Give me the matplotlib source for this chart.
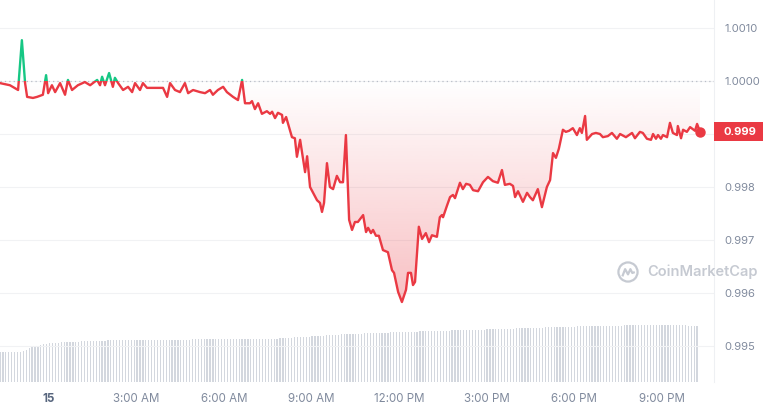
import numpy as np
import matplotlib.pyplot as plt
from matplotlib.patches import Polygon, Rectangle, Circle
from matplotlib.colors import LinearSegmentedColormap
import matplotlib.transforms as mtransforms

plt.rcParams['font.family'] = ['Inter', 'DejaVu Sans']

# price trace: hours relative to 00:00 on the 15th, price in USD
hours = [-1.68, -1.34, -1.06, -0.93, -0.82, -0.75, -0.55, -0.41, -0.21, -0.10,
         -0.03, 0.10, 0.21, 0.38, 0.55, 0.65, 0.79, 0.99, 1.23, 1.41,
         1.65, 1.75, 1.82, 1.92, 2.06, 2.19, 2.26, 2.37, 2.54, 2.71,
         2.85, 2.95, 3.12, 3.22, 3.36, 3.91, 4.05, 4.15, 4.32, 4.49,
         4.66, 4.77, 4.94, 5.18, 5.35, 5.52, 5.62, 5.79, 5.97, 6.10,
         6.31, 6.48, 6.62, 6.72, 6.89, 6.96, 7.06, 7.17, 7.30, 7.47,
         7.58, 7.65, 7.75, 7.85, 7.99, 8.02, 8.13, 8.33, 8.43, 8.50,
         8.61, 8.78, 8.85, 8.95, 9.19, 9.29, 9.36, 9.43, 9.53, 9.63,
         9.74, 9.87, 9.98, 10.08, 10.18, 10.29, 10.39, 10.49, 10.59, 10.70,
         10.77, 10.87, 10.94, 11.04, 11.11, 11.21, 11.31, 11.45, 11.62, 11.76,
         11.83, 11.97, 12.10, 12.24, 12.31, 12.41, 12.48, 12.55, 12.68, 12.79,
         12.92, 13.03, 13.13, 13.30, 13.40, 13.47, 13.51, 13.64, 13.75, 13.85,
         13.92, 14.09, 14.19, 14.30, 14.43, 14.54, 14.71, 14.88, 15.05, 15.22,
         15.39, 15.53, 15.63, 15.80, 15.91, 15.98, 16.08, 16.25, 16.39, 16.49,
         16.59, 16.76, 16.90, 17.07, 17.18, 17.28, 17.38, 17.48, 17.62, 17.72,
         17.83, 17.96, 18.10, 18.20, 18.27, 18.38, 18.44, 18.62, 18.75, 18.89,
         18.99, 19.16, 19.30, 19.47, 19.58, 19.78, 19.99, 20.09, 20.26, 20.36,
         20.50, 20.64, 20.71, 20.81, 20.88, 20.98, 21.05, 21.19, 21.29, 21.39,
         21.53, 21.56, 21.67, 21.74, 21.87, 21.98, 22.15, 22.22, 22.32]
price = [0.99996, 0.99992, 0.99983, 1.00077, 0.99996, 0.99970, 0.99968, 0.99970, 0.99974, 1.00011,
         0.99977, 0.99992, 0.99979, 0.99996, 0.99974, 1.00002, 0.99983, 0.99992, 0.99998, 0.99992,
         1.00002, 0.99992, 1.00008, 0.99992, 1.00015, 0.99989, 1.00006, 0.99996, 0.99983, 0.99989,
         0.99979, 0.99996, 0.99983, 0.99996, 0.99987, 0.99987, 0.99970, 0.99996, 0.99983, 0.99979,
         0.99996, 0.99977, 0.99983, 0.99979, 0.99977, 0.99983, 0.99974, 0.99983, 0.99989, 0.99979,
         0.99970, 0.99964, 1.00002, 0.99958, 0.99958, 0.99962, 0.99947, 0.99958, 0.99938, 0.99943,
         0.99938, 0.99942, 0.99930, 0.99940, 0.99936, 0.99921, 0.99932, 0.99894, 0.99892, 0.99857,
         0.99889, 0.99828, 0.99858, 0.99800, 0.99775, 0.99770, 0.99753, 0.99770, 0.99845, 0.99800,
         0.99796, 0.99821, 0.99809, 0.99809, 0.99898, 0.99738, 0.99719, 0.99734, 0.99734, 0.99742,
         0.99747, 0.99715, 0.99723, 0.99713, 0.99719, 0.99708, 0.99708, 0.99681, 0.99677, 0.99643,
         0.99638, 0.99602, 0.99583, 0.99606, 0.99638, 0.99638, 0.99615, 0.99621, 0.99725, 0.99702,
         0.99713, 0.99696, 0.99709, 0.99706, 0.99743, 0.99747, 0.99743, 0.99764, 0.99781, 0.99785,
         0.99779, 0.99808, 0.99796, 0.99806, 0.99804, 0.99794, 0.99792, 0.99809, 0.99819, 0.99811,
         0.99808, 0.99832, 0.99804, 0.99806, 0.99802, 0.99781, 0.99792, 0.99772, 0.99789, 0.99781,
         0.99775, 0.99796, 0.99762, 0.99800, 0.99813, 0.99864, 0.99855, 0.99872, 0.99908, 0.99904,
         0.99906, 0.99911, 0.99898, 0.99911, 0.99902, 0.99934, 0.99889, 0.99900, 0.99902, 0.99900,
         0.99894, 0.99896, 0.99902, 0.99891, 0.99900, 0.99894, 0.99902, 0.99892, 0.99904, 0.99902,
         0.99891, 0.99889, 0.99900, 0.99891, 0.99898, 0.99891, 0.99898, 0.99894, 0.99921, 0.99902,
         0.99898, 0.99915, 0.99892, 0.99908, 0.99904, 0.99913, 0.99906, 0.99919, 0.99904]

# 24h volume (billions), one bar every 6 minutes starting at -1.68 h
vol_start = -1.68
vol_step = 0.1
volume = [3.00, 3.00, 3.00, 3.00, 3.01, 3.01, 3.00, 3.00, 3.15, 3.25,
          3.40, 3.50, 3.55, 3.62, 3.70, 3.78, 3.85, 3.88, 3.90, 3.92,
          3.95, 3.97, 3.98, 4.00, 4.00, 4.02, 4.03, 4.05, 4.06, 4.08,
          4.10, 4.10, 4.12, 4.13, 4.13, 4.15, 4.15, 4.16, 4.17, 4.17,
          4.18, 4.18, 4.19, 4.20, 4.20, 4.20, 4.21, 4.21, 4.21, 4.22,
          4.22, 4.22, 4.22, 4.23, 4.23, 4.23, 4.23, 4.24, 4.24, 4.24,
          4.24, 4.24, 4.25, 4.25, 4.25, 4.25, 4.26, 4.26, 4.26, 4.26,
          4.26, 4.27, 4.30, 4.27, 4.27, 4.27, 4.28, 4.28, 4.28, 4.28,
          4.28, 4.29, 4.29, 4.29, 4.30, 4.30, 4.30, 4.30, 4.31, 4.31,
          4.31, 4.32, 4.32, 4.33, 4.34, 4.35, 4.37, 4.39, 4.41, 4.43,
          4.45, 4.47, 4.49, 4.51, 4.52, 4.53, 4.55, 4.57, 4.59, 4.61,
          4.63, 4.65, 4.67, 4.69, 4.71, 4.73, 4.74, 4.76, 4.77, 4.78,
          4.79, 4.81, 4.82, 4.83, 4.85, 4.86, 4.87, 4.88, 4.89, 4.90,
          4.92, 4.93, 4.94, 4.95, 4.96, 4.97, 4.98, 4.99, 5.00, 5.01,
          5.02, 5.03, 5.04, 5.05, 5.06, 5.07, 5.08, 5.09, 5.10, 5.11,
          5.12, 5.13, 5.13, 5.14, 5.15, 5.16, 5.17, 5.17, 5.18, 5.19,
          5.19, 5.20, 5.21, 5.22, 5.23, 5.24, 5.25, 5.26, 5.27, 5.28,
          5.29, 5.30, 5.31, 5.32, 5.33, 5.34, 5.35, 5.36, 5.37, 5.38,
          5.39, 5.40, 5.41, 5.42, 5.43, 5.44, 5.45, 5.46, 5.47, 5.48,
          5.49, 5.50, 5.51, 5.52, 5.53, 5.54, 5.55, 5.55, 5.56, 5.57,
          5.58, 5.58, 5.59, 5.60, 5.60, 5.61, 5.62, 5.62, 5.63, 5.63,
          5.64, 5.64, 5.65, 5.65, 5.66, 5.66, 5.67, 5.67, 5.68, 5.68,
          5.69, 5.69, 5.70, 5.70, 5.70, 5.70, 5.70, 5.70, 5.70, 5.69,
          5.69, 5.68, 5.68, 5.67, 5.66, 5.66, 5.65, 5.65, 5.64, 5.64]

xtick_hours = [0, 3, 6, 9, 12, 15, 18, 21]
xtick_labels = ['15', '3:00 AM', '6:00 AM', '9:00 AM', '12:00 PM', '3:00 PM', '6:00 PM', '9:00 PM']
ytick_vals = [1.0010, 1.0000, 0.999, 0.998, 0.997, 0.996, 0.995]
ytick_labels = ['1.0010', '1.0000', '', '0.998', '0.997', '0.996', '0.995']
baseline = 1.0

RED = '#ea3943'
GREEN = '#16c784'
GREY = '#808a9d'

hours = np.array(hours)
price = np.array(price)

fig = plt.figure(figsize=(7.68, 4.09), dpi=100)
rect = [0, 27 / 409, 714 / 768, 382 / 409]
xlim = (-1.68, 22.80)

# volume bars behind
axv = fig.add_axes(rect)
vol_x = vol_start + vol_step * np.arange(len(volume))
axv.bar(vol_x, volume, width=0.045, color='#d3d7de', linewidth=0)
axv.set_xlim(xlim)
axv.set_ylim(0, 38.2)
axv.axis('off')

ax = fig.add_axes(rect)
ax.patch.set_alpha(0)
ax.set_xlim(xlim)
ax.set_ylim(0.994321, 1.001528)

for v in ytick_vals:
    ax.axhline(v, color='#f1f2f4', lw=0.8, zorder=0)
ax.axhline(baseline, color='#b9bec7', lw=0.9, ls=(0, (1, 2.5)), zorder=1)

# gradient fill between line and the 1.0 baseline
cmap = LinearSegmentedColormap.from_list('g', [(234/255, 57/255, 67/255, 0.32),
                                               (234/255, 57/255, 67/255, 0.0)])
lo = price.min()
grad = np.linspace(0, 1, 256).reshape(-1, 1)
im = ax.imshow(grad, extent=[hours[0], hours[-1], lo, baseline], origin='lower',
               aspect='auto', cmap=cmap, zorder=1)
verts = [(hours[0], baseline)] + list(zip(hours, np.minimum(price, baseline))) + [(hours[-1], baseline)]
poly = Polygon(verts, closed=True, facecolor='none', edgecolor='none')
ax.add_patch(poly)
im.set_clip_path(poly)

# price line: green above 1.0, red below
red_line, = ax.plot(hours, price, color=RED, lw=1.7, zorder=3, solid_joinstyle='round')
green_line, = ax.plot(hours, price, color=GREEN, lw=1.7, zorder=3, solid_joinstyle='round')
lower = Rectangle((xlim[0], 0.99), xlim[1] - xlim[0], baseline - 0.99, transform=ax.transData)
upper = Rectangle((xlim[0], baseline), xlim[1] - xlim[0], 0.01, transform=ax.transData)
red_line.set_clip_path(lower)
green_line.set_clip_path(upper)
ax.plot(hours[-1], price[-1], 'o', color=RED, ms=6.5, zorder=4)

ax.set_ylim(0.994321, 1.001528)
ax.set_xlim(xlim)

for s in ['top', 'left', 'bottom']:
    ax.spines[s].set_visible(False)
ax.spines['right'].set_color('#eef0f3')
ax.spines['right'].set_linewidth(0.8)

ax.yaxis.tick_right()
ax.set_yticks(ytick_vals)
ax.set_yticklabels(ytick_labels)
ax.tick_params(axis='y', length=0, pad=7.5, labelsize=8, labelcolor=GREY)
ax.set_xticks(xtick_hours)
ax.set_xticklabels(xtick_labels)
ax.tick_params(axis='x', length=0, pad=8, labelsize=8.3, labelcolor=GREY)
lab0 = ax.get_xticklabels()[0]
lab0.set_fontweight('bold')
lab0.set_color('#58667e')

# current price tag
last = price[-1]
tag_tr = mtransforms.blended_transform_factory(ax.transAxes, ax.transData)
ax.add_patch(Rectangle((1.0, last - 0.00018), 49 / 714, 0.00036, transform=tag_tr,
                       facecolor=RED, edgecolor='none', clip_on=False, zorder=5))
ax.text(1.0 + 10 / 714, last, f'{last:.3f}', transform=tag_tr, color='white',
        fontsize=8, fontweight='bold', va='center', ha='left', zorder=6)

# watermark
fig.text(647 / 768, 1 - 272 / 409, 'CoinMarketCap', color='#c6cad2', fontsize=10.5,
         fontweight='semibold', va='center', ha='left')
axl = fig.add_axes([(628 - 11) / 768, (409 - 272 - 11) / 409, 22 / 768, 22 / 409])
axl.set_xlim(-1.15, 1.15)
axl.set_ylim(-1.15, 1.15)
axl.axis('off')
axl.add_patch(Circle((0, 0), 1.0, fill=False, edgecolor='#c6cad2', lw=1.6))
axl.plot([-0.55, -0.3, 0.0, 0.25, 0.45, 0.6], [-0.35, 0.3, -0.25, 0.3, -0.1, -0.05],
         color='#c6cad2', lw=1.6, solid_joinstyle='round')

fig.savefig('out.png', dpi=100)
